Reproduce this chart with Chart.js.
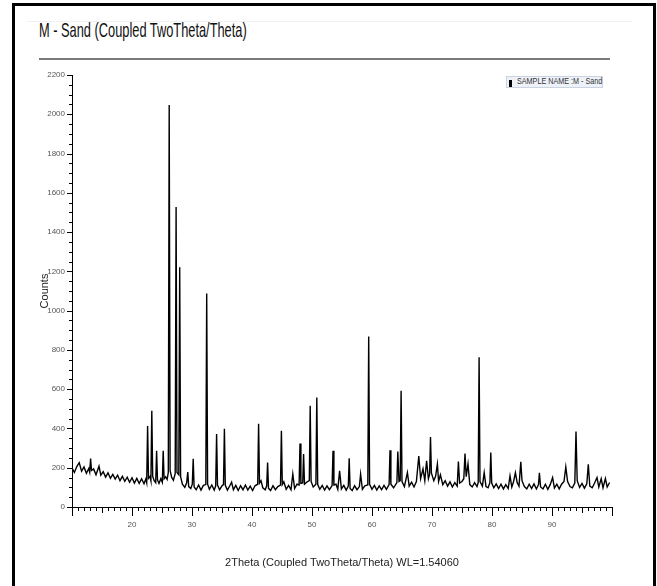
<!DOCTYPE html>
<html>
<head>
<meta charset="utf-8">
<script src="https://cdn.jsdelivr.net/npm/chart.js@4.4.0/dist/chart.umd.min.js"></script>
<style>
  html, body { margin: 0; padding: 0; background: #fff; }
  #wrap { position: relative; width: 657px; height: 586px; overflow: hidden;
          font-family: 'Liberation Sans', Arial, sans-serif; }
  #frame { position: absolute; left: 12px; top: 3px; width: 644px; height: 620px;
           border: 3px solid #000; box-sizing: border-box; }
  #faint { position: absolute; left: 27px; top: 21px; width: 605px; height: 1px; background: #f0f0f0; }
  #title { position: absolute; left: 39px; top: 18px; font-size: 21px; color: #111; white-space: nowrap;
           transform: scaleX(0.61); transform-origin: 0 0; }
  #rule { position: absolute; left: 39px; top: 58px; width: 571px; height: 2px; background: #7a7a7a; }
  #legend { position: absolute; left: 506px; top: 76px; width: 97px; height: 12px;
            background: #eef2f8; border: 1px solid #c9d3e2; box-sizing: border-box; }
  #legend i { position: absolute; left: 2px; top: 3px; width: 3px; height: 7px; background: #000; }
  #legend span { position: absolute; left: 10px; top: -1px; font-size: 9px; color: #333; white-space: nowrap;
                 transform: scaleX(0.8); transform-origin: 0 0; }
  canvas { position: absolute; left: 0; top: 0; }
</style>
</head>
<body>
<div id="wrap">
  <div id="faint"></div>
  <div id="title">M - Sand (Coupled TwoTheta/Theta)</div>
  <div id="rule"></div>
  <canvas id="xrd" width="657" height="586"></canvas>
  <div id="legend"><i></i><span>SAMPLE NAME :M - Sand</span></div>
  <div id="frame"></div>
</div>
<script>
// 2Theta positions (deg)
const twoTheta = [
  10.0, 10.4, 10.8, 11.2, 11.6, 12.0, 12.4, 12.8, 12.95, 13.1,
  13.25, 13.6, 14.0, 14.5, 14.8, 15.2, 15.6, 16.0, 16.4, 16.8,
  17.2, 17.6, 18.0, 18.4, 18.8, 19.2, 19.6, 20.0, 20.4, 20.8,
  21.2, 21.6, 22.0, 22.3, 22.45, 22.6, 22.75, 23.0, 23.15, 23.3,
  23.45, 23.7, 23.95, 24.1, 24.25, 24.5, 24.8, 25.05, 25.2, 25.35,
  25.6, 25.85, 26.05, 26.2, 26.35, 26.6, 26.9, 27.2, 27.35, 27.5,
  27.8, 27.95, 28.1, 28.4, 28.8, 29.1, 29.3, 29.45, 29.8, 30.05,
  30.2, 30.35, 30.7, 31.1, 31.5, 31.9, 32.3, 32.45, 32.6, 32.9,
  33.3, 33.7, 33.95, 34.1, 34.25, 34.6, 35.0, 35.25, 35.4, 35.55,
  35.9, 36.3, 36.6, 36.9, 37.3, 37.7, 38.1, 38.5, 38.9, 39.3,
  39.7, 40.1, 40.5, 40.95, 41.1, 41.25, 41.5, 41.8, 42.2, 42.45,
  42.6, 42.75, 43.1, 43.5, 43.9, 44.3, 44.75, 44.9, 45.05, 45.3,
  45.7, 46.1, 46.5, 46.8, 47.1, 47.5, 47.85, 48.0, 48.15, 48.45,
  48.6, 48.75, 49.1, 49.55, 49.7, 49.85, 50.2, 50.65, 50.8, 50.95,
  51.3, 51.7, 52.1, 52.5, 52.9, 53.35, 53.5, 53.65, 54.0, 54.3,
  54.6, 54.9, 55.3, 55.7, 56.05, 56.2, 56.35, 56.7, 57.1, 57.5,
  57.9, 58.1, 58.4, 58.8, 59.3, 59.45, 59.6, 60.0, 60.4, 60.8,
  61.2, 61.6, 62.0, 62.4, 62.85, 63.0, 63.15, 63.6, 64.15, 64.3,
  64.5, 64.7, 64.85, 65.0, 65.4, 65.9, 66.2, 66.6, 67.0, 67.4,
  67.8, 68.1, 68.5, 68.8, 69.1, 69.4, 69.6, 69.75, 69.9, 70.3,
  70.6, 70.9, 71.1, 71.4, 71.8, 72.2, 72.6, 73.0, 73.4, 73.8,
  74.2, 74.4, 74.6, 75.0, 75.3, 75.5, 75.7, 76.0, 76.3, 76.7,
  77.1, 77.5, 77.7, 77.85, 78.0, 78.4, 78.7, 79.0, 79.35, 79.65,
  79.8, 79.95, 80.3, 80.7, 81.1, 81.5, 81.9, 82.3, 82.7, 83.0,
  83.3, 83.6, 83.9, 84.2, 84.5, 84.8, 85.0, 85.4, 85.8, 86.2,
  86.6, 87.0, 87.4, 87.75, 87.9, 88.1, 88.5, 88.9, 89.3, 89.7,
  90.1, 90.4, 90.8, 91.2, 91.6, 92.0, 92.3, 92.6, 93.0, 93.4,
  93.8, 94.0, 94.2, 94.6, 95.0, 95.4, 95.8, 96.05, 96.3, 96.7,
  97.1, 97.5, 97.8, 98.2, 98.5, 98.9, 99.2, 99.6
];

// intensity (counts) at each position above
const counts = [
  198, 176, 206, 226, 182, 204, 172, 196, 178, 247,
  186, 194, 164, 208, 162, 180, 152, 174, 146, 166,
  142, 162, 134, 156, 131, 152, 126, 149, 122, 146,
  120, 144, 118, 142, 124, 413, 146, 156, 134, 490,
  156, 134, 124, 286, 138, 120, 144, 126, 286, 144,
  154, 140, 176, 2047, 186, 152, 136, 170, 1528, 176,
  164, 1221, 154, 116, 100, 122, 178, 104, 94, 116,
  245, 102, 88, 112, 86, 110, 114, 1087, 116, 90,
  112, 86, 108, 372, 112, 88, 108, 114, 398, 110,
  86, 108, 126, 88, 110, 84, 108, 88, 112, 86,
  106, 84, 108, 116, 424, 122, 134, 98, 88, 108,
  226, 96, 84, 108, 88, 104, 112, 388, 114, 128,
  90, 110, 88, 168, 94, 116, 112, 323, 120, 122,
  270, 116, 126, 134, 516, 130, 102, 116, 558, 114,
  90, 110, 86, 108, 88, 109, 286, 112, 116, 90,
  184, 92, 110, 86, 106, 248, 94, 84, 108, 88,
  104, 168, 90, 108, 112, 868, 116, 90, 110, 86,
  108, 88, 110, 90, 114, 289, 116, 98, 124, 282,
  130, 134, 592, 130, 104, 175, 106, 126, 102, 130,
  260, 144, 194, 134, 235, 144, 166, 357, 174, 134,
  156, 219, 130, 164, 114, 134, 106, 128, 102, 124,
  106, 231, 122, 130, 144, 272, 154, 219, 114, 102,
  124, 104, 124, 762, 129, 106, 175, 104, 98, 124,
  277, 122, 98, 118, 94, 116, 92, 114, 94, 158,
  102, 130, 175, 124, 106, 230, 134, 104, 92, 116,
  94, 118, 92, 114, 174, 102, 92, 116, 90, 114,
  150, 96, 116, 92, 116, 130, 204, 129, 104, 98,
  122, 385, 134, 100, 120, 96, 118, 218, 106, 98,
  122, 150, 102, 144, 98, 145, 102, 125
];

const xRange = [10, 100];
const yRange = [0, 2200];
const xLabelTicks = [20, 30, 40, 50, 60, 70, 80, 90];

const tickFont = { family: "'Liberation Sans', Arial", size: 8 };

// major/minor tick marks like the diffractometer software draws them
const axisTicks = {
  id: 'axisTicks',
  afterDraw(chart) {
    const { ctx, chartArea: a, scales: { x, y } } = chart;
    ctx.save();
    ctx.strokeStyle = '#000';
    ctx.lineWidth = 1;
    ctx.beginPath();
    for (let v = xRange[0]; v <= xRange[1]; v++) {
      const px = Math.round(x.getPixelForValue(v)) + 0.5;
      const len = v % 10 === 0 ? 9 : (v % 5 === 0 ? 6 : 4);
      ctx.moveTo(px, a.bottom);
      ctx.lineTo(px, a.bottom + len);
    }
    for (let v = yRange[0]; v <= yRange[1]; v += 50) {
      const py = Math.round(y.getPixelForValue(v)) + 0.5;
      const len = v % 200 === 0 ? 5 : 3;
      ctx.moveTo(a.left - len, py);
      ctx.lineTo(a.left, py);
    }
    ctx.stroke();
    ctx.restore();
  }
};

new Chart(document.getElementById('xrd').getContext('2d'), {
  type: 'line',
  data: {
    datasets: [{
      label: 'SAMPLE NAME :M - Sand',
      data: twoTheta.map((t, i) => ({ x: t, y: counts[i] })),
      borderColor: '#000',
      borderWidth: 1.4,
      pointRadius: 0,
      tension: 0
    }]
  },
  options: {
    responsive: false,
    animation: false,
    devicePixelRatio: 1,
    layout: { padding: { left: 34, top: 75, right: 45, bottom: 12 } },
    plugins: { legend: { display: false }, tooltip: { enabled: false } },
    scales: {
      x: {
        type: 'linear', min: xRange[0], max: xRange[1],
        afterBuildTicks: (s) => { s.ticks = xLabelTicks.map(v => ({ value: v })); },
        afterFit: (s) => { s.height = 67; },
        ticks: { color: '#555', font: tickFont, padding: 4, maxRotation: 0, autoSkip: false,
                 callback: (v) => String(v) },
        grid: { drawOnChartArea: false, drawTicks: true, tickLength: 9, tickColor: 'rgba(0,0,0,0)' },
        border: { display: true, color: '#000', width: 1 },
        title: { display: true, text: '2Theta (Coupled TwoTheta/Theta) WL=1.54060', color: '#222',
                 font: { family: "'Liberation Sans', Arial", size: 11 } }
      },
      y: {
        min: yRange[0], max: yRange[1],
        afterFit: (s) => { s.width = 38; },
        ticks: { stepSize: 200, color: '#555', font: tickFont, padding: 2, callback: (v) => String(v) },
        grid: { drawOnChartArea: false, drawTicks: true, tickLength: 5, tickColor: 'rgba(0,0,0,0)' },
        border: { display: true, color: '#000', width: 1 },
        title: { display: true, text: 'Counts', color: '#222',
                 font: { family: "'Liberation Sans', Arial", size: 11 } }
      }
    }
  },
  plugins: [axisTicks]
});
</script>
</body>
</html>
